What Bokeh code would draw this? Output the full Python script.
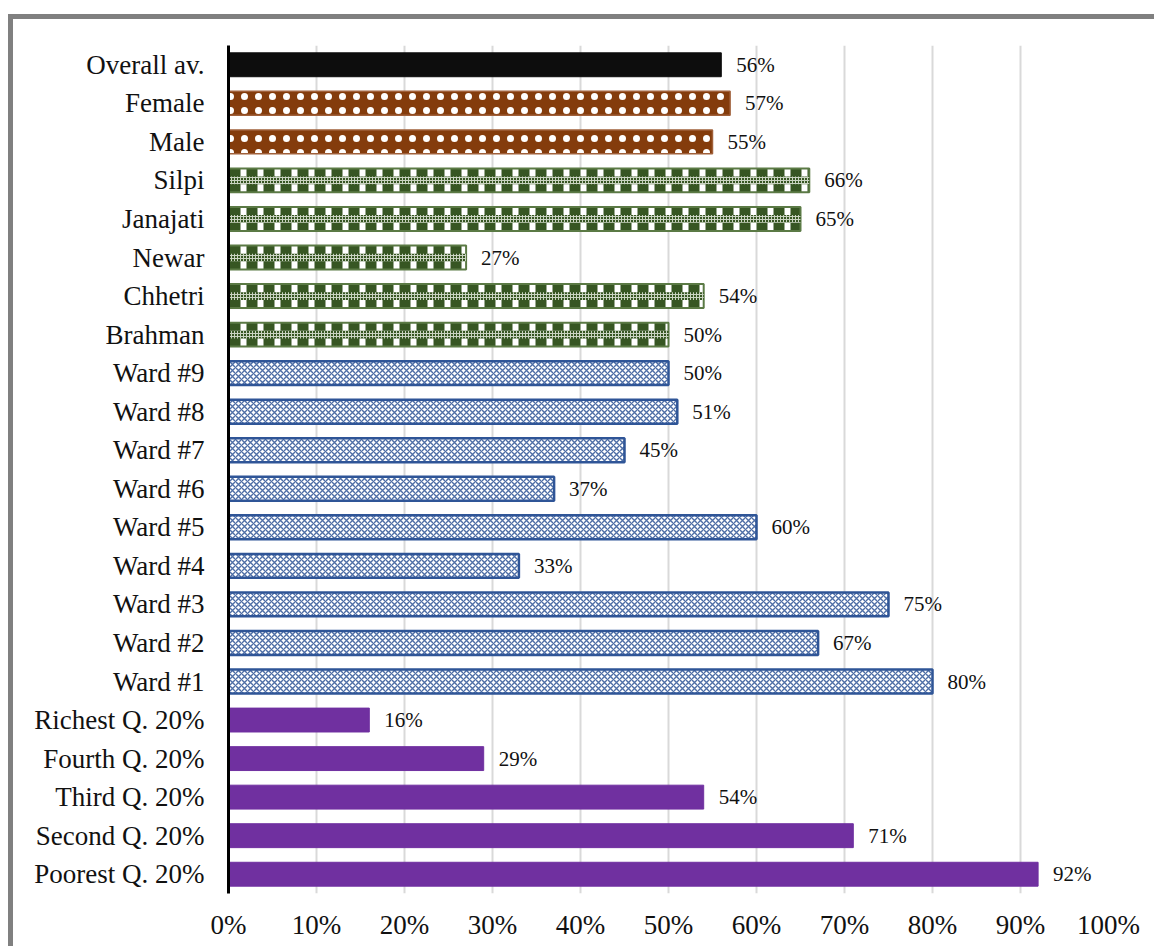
from bokeh.plotting import figure
from bokeh.models import FactorRange, FixedTicker
from bokeh.core.properties import value
from bokeh.embed import file_html
from bokeh.resources import INLINE

# ---- data ----
overall_cats = ["Overall av."]
overall_vals = [56]
gender_cats = ["Female", "Male"]
gender_vals = [57, 55]
caste_cats = ["Silpi", "Janajati", "Newar", "Chhetri", "Brahman"]
caste_vals = [66, 65, 27, 54, 50]
ward_cats = ["Ward #9", "Ward #8", "Ward #7", "Ward #6", "Ward #5",
             "Ward #4", "Ward #3", "Ward #2", "Ward #1"]
ward_vals = [50, 51, 45, 37, 60, 33, 75, 67, 80]
quint_cats = ["Richest Q. 20%", "Fourth Q. 20%", "Third Q. 20%",
              "Second Q. 20%", "Poorest Q. 20%"]
quint_vals = [16, 29, 54, 71, 92]
x_ticks = [0, 10, 20, 30, 40, 50, 60, 70, 80, 90, 100]
x_tick_labels = ["0%", "10%", "20%", "30%", "40%", "50%", "60%", "70%", "80%", "90%", "100%"]

all_cats = overall_cats + gender_cats + caste_cats + ward_cats + quint_cats
all_vals = overall_vals + gender_vals + caste_vals + ward_vals + quint_vals

FONT = value("Liberation Serif")
BAR_H = 0.62

p = figure(
    width=1146, height=932,
    y_range=FactorRange(factors=list(reversed(all_cats)), range_padding=0),
    x_range=(0, 100),
    output_backend="svg", toolbar_location=None,
    min_border_left=215, min_border_right=51, min_border_top=26, min_border_bottom=58,
)
p.styles = {
    "margin-left": "8px", "margin-top": "14px",
    "border-left": "5px solid #808080", "border-top": "5px solid #808080",
}
p.outline_line_color = None
p.background_fill_color = "white"
p.border_fill_color = "white"

# overall
p.hbar(y=overall_cats, left=0, right=overall_vals, height=BAR_H,
       fill_color="#0D0D0D", line_color="#0D0D0D")
# gender: brown with small white dots
p.hbar(y=gender_cats, left=0, right=gender_vals, height=BAR_H,
       fill_color="#843C0C", line_color="#A0603A", line_width=1.5,
       hatch_pattern="dot", hatch_color="white", hatch_scale=14, hatch_weight=1)
# caste: green with white blocks
p.hbar(y=caste_cats, left=0, right=caste_vals, height=BAR_H,
       fill_color="#375623", line_color="#5B7A45", line_width=2,
       hatch_pattern="vertical_line", hatch_color="white", hatch_scale=17, hatch_weight=6)
p.hbar(y=caste_cats, left=0, right=caste_vals, height=0.2,
       fill_color="#375623", line_color=None,
       hatch_pattern="cross", hatch_color="#C9D3C0", hatch_scale=3, hatch_weight=1)
# wards: blue weave on white
p.hbar(y=ward_cats, left=0, right=ward_vals, height=BAR_H,
       fill_color="white", line_color="#2F5597", line_width=2.5,
       hatch_pattern="diagonal_cross", hatch_color="#2F5597", hatch_scale=6, hatch_weight=1.4,
       hatch_alpha=0.85)
# quintiles: purple
p.hbar(y=quint_cats, left=0, right=quint_vals, height=BAR_H,
       fill_color="#7030A0", line_color="#7030A0")

# value labels
p.text(x=all_vals, y=all_cats, text=[f"{v}%" for v in all_vals],
       x_offset=15, text_align="left", text_baseline="middle",
       text_font=FONT, text_font_size="21px", text_color="#111111")

# axes
xa = p.xaxis[0]
xa.ticker = FixedTicker(ticks=x_ticks)
xa.major_label_overrides = {t: l for t, l in zip(x_ticks, x_tick_labels)}
xa.axis_line_color = None
xa.major_tick_line_color = None
xa.minor_tick_line_color = None
xa.major_label_standoff = 10
xa.major_label_text_font = "Liberation Serif"
xa.major_label_text_font_size = "27px"
xa.major_label_text_color = "#111111"

ya = p.yaxis[0]
ya.axis_line_color = "black"
ya.axis_line_width = 3
ya.major_tick_line_color = None
ya.minor_tick_line_color = None
ya.major_label_standoff = 18
ya.major_label_text_font = "Liberation Serif"
ya.major_label_text_font_size = "27px"
ya.major_label_text_color = "#111111"

p.xgrid.grid_line_color = "#D9D9D9"
p.xgrid.grid_line_width = 2
p.ygrid.grid_line_color = None

open("out.html", "w").write(file_html(p, INLINE))
